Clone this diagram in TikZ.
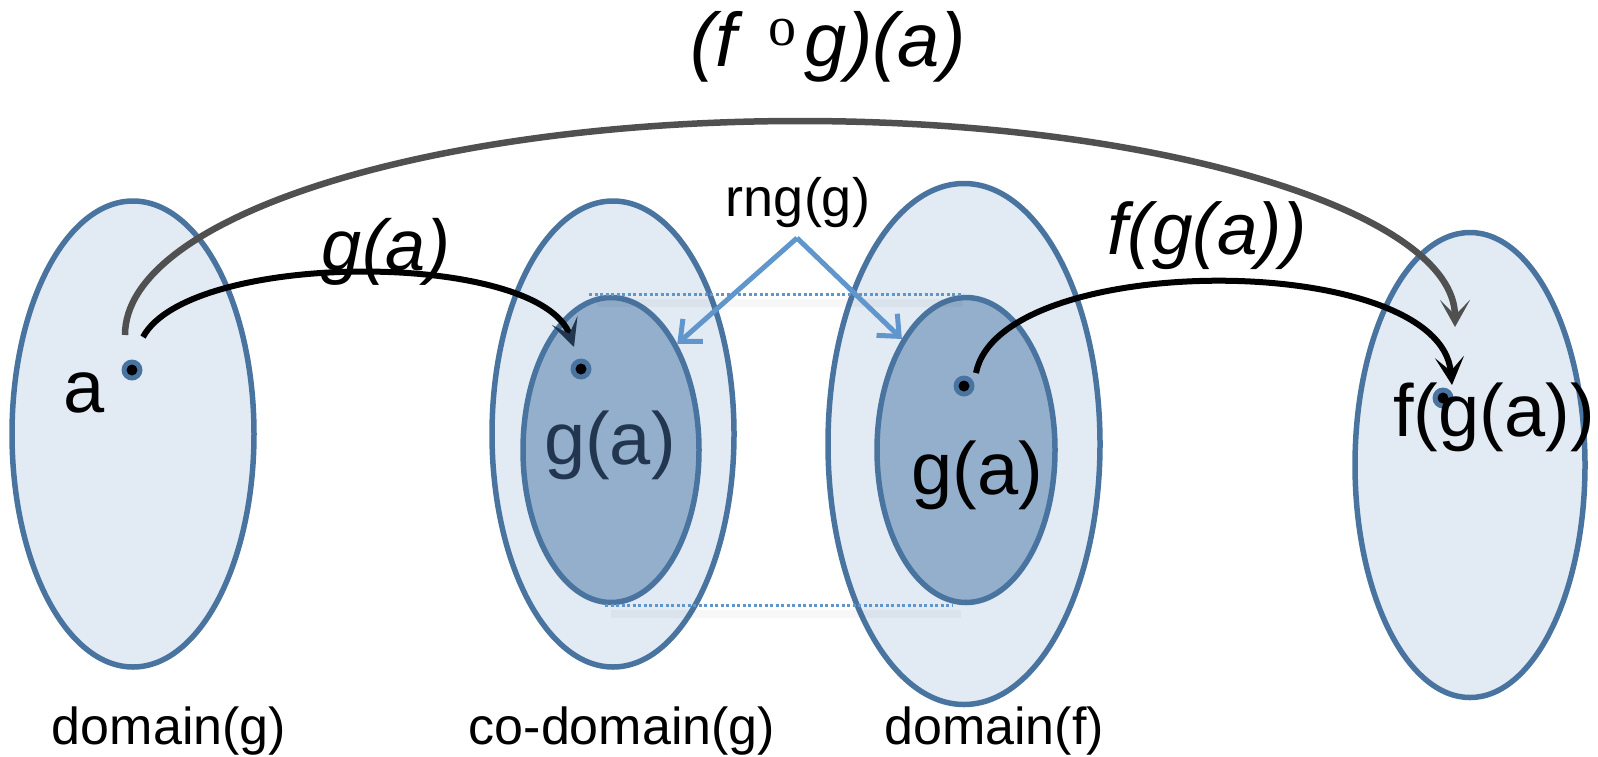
\documentclass[tikz,border=0pt]{standalone}
\usepackage{fontspec}
\setmainfont{Liberation Sans}
\newfontfamily\seriffont{Liberation Serif}
\usetikzlibrary{calc, arrows.meta, shapes.geometric}

\definecolor{setfill}{HTML}{E2EAF4}
\definecolor{setline}{HTML}{4A74A0}
\definecolor{rngfill}{HTML}{94AFCC}
\definecolor{rngline}{HTML}{6096CC}
\definecolor{arcgray}{HTML}{505050}
\definecolor{navy}{HTML}{22364F}

\begin{document}
\begin{tikzpicture}[x=1pt,y=-1pt,
    conjunto/.style={ellipse, draw=setline, line width=5.5pt, fill=setfill, inner sep=0pt},
    rango/.style={conjunto, fill=rngfill},
    elem/.style={circle, fill=setline, inner sep=0pt, minimum size=21pt,
        path picture={\fill[black] (path picture bounding box.center) circle (5.5pt);}},
    grande/.style={font=\fontsize{74}{80}\selectfont, inner sep=0pt, anchor=base},
    nombre/.style={font=\fontsize{52}{56}\selectfont, inner sep=0pt, anchor=base}]
    % Limites del dibujo
    \useasboundingbox (0,0) rectangle (1598,756);

    % Conjuntos
    \node[conjunto, minimum width=242pt, minimum height=466pt] (domg) at (133,434) {};
    \node[conjunto, minimum width=242pt, minimum height=466pt] (codg) at (613,434) {};
    \node[rango, minimum width=176pt, minimum height=305pt] (cin) at (611,450) {};
    \node[conjunto, minimum width=272pt, minimum height=521pt] (domf) at (964,444) {};
    \node[rango, minimum width=178pt, minimum height=305pt] (fin) at (966,450) {};
    \node[conjunto, minimum width=230pt, minimum height=465pt] (imf) at (1470,465) {};

    % Lineas punteadas entre los rangos
    \draw[black, opacity=.03, line width=8pt] ($(cin.north)+(-14,8)$) -- ($(fin.north)+(-3,8)$);
    \draw[black, opacity=.03, line width=8pt] ($(cin.south)+(0,9)$) -- ($(fin.south)+(-5,9)$);
    \draw[rngline, line width=3.2pt, dash pattern=on 3pt off 2.5pt] ($(cin.north)+(-22,0)$) -- ($(fin.north)+(-3,0)$);
    \draw[rngline, line width=3.2pt, dash pattern=on 3pt off 2.5pt] ($(cin.south)+(-6,0)$) -- ($(fin.south)+(-13,0)$);

    % Elementos
    \node[elem] (adot) at (132,370) {};
    \node[elem] (gdot) at (581,369) {};
    \node[elem] (gfdot) at (964,386) {};
    \node[elem] (fdot) at (1443,398) {};

    % Textos de los elementos
    \node[grande] (atxt) at (84,412) {a};
    \node[grande, text=navy] (gtxt) at (610,464) {g(a)};
    \node[grande] (gftxt) at (977,494) {g(a)};
    \node[grande] (ftxt) at (1494,436) {f(g(a))};

    % Nombres de los conjuntos
    \node[nombre] (ndomg) at (169,744) {domain(g)};
    \node[nombre] (ncodg) at (622,744) {co-domain(g)};
    \node[nombre] (ndomf) at (994,744) {domain(f)};

    % Flecha de la composicion
    \draw[arcgray, line width=6.5pt, -{Stealth[length=27pt, width=30pt, inset=15pt]}]
        ($(adot)+(-7,-35)$) .. controls (125,217) and (429,121) .. (800,121)
        .. controls (1162,121) and (1455,213) .. ($(fdot)+(12,-71)$);
    \node[grande, font=\fontsize{76}{80}\selectfont\itshape] (comp) at (828,66)
        {(f\hspace{32pt}{\upshape\seriffont\raisebox{21pt}{\fontsize{56}{56}\selectfont o}}\hspace{8pt}g)(a)};

    % Flecha de g
    \draw[line width=6pt, -{Stealth[length=28pt, width=27pt, inset=14pt, fill=navy, color=navy]}]
        ($(adot)+(11,-33)$) .. controls (190,250) and (540,250) .. ($(gdot)+(-7,-22)$);
    \node[grande, font=\fontsize{72}{80}\selectfont\itshape] (gmap) at (386,270) {g(a)};

    % Flecha de f
    \draw[line width=6pt, -{Stealth[length=28pt, width=29pt, inset=14pt]}]
        ($(gfdot)+(12,-13)$) .. controls (1000,250) and (1440,250) .. ($(fdot)+(9,-13)$);
    \node[grande, font=\fontsize{73}{80}\selectfont\itshape] (fmap) at (1207,254) {f(g(a))};

    % Rango de g
    \node[nombre, font=\fontsize{54}{58}\selectfont] (rng) at (798,216) {rng(g)};
    \coordinate (rngtip) at (797,238);
    \draw[rngline, line width=5pt, -{Straight Barb[length=17pt, width=30pt]}] (rngtip) -- (cin.58);
    \draw[rngline, line width=5pt, -{Straight Barb[length=17pt, width=30pt]}] (rngtip) -- (fin.120);

\end{tikzpicture}
\end{document}
